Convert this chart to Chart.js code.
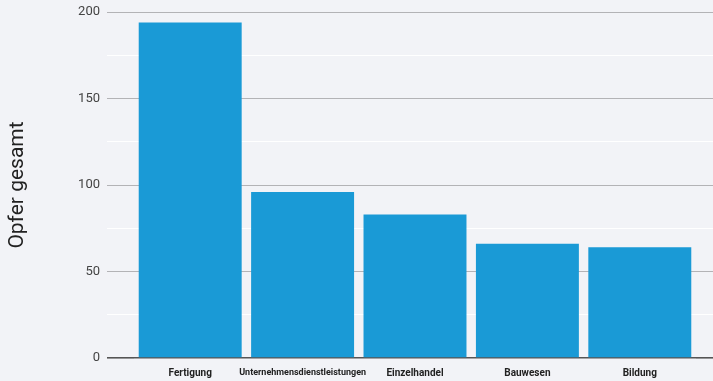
<!DOCTYPE html>
<html>
<head>
<meta charset="utf-8">
<script src="https://cdn.jsdelivr.net/npm/chart.js@4/dist/chart.umd.min.js"></script>
<style>
  html, body { margin: 0; padding: 0; background: #f2f3f7; }
  #wrap { width: 713px; height: 381px; position: relative; }
</style>
</head>
<body>
<div id="wrap"><canvas id="c" width="713" height="381"></canvas></div>
<script>
const categories = ["Fertigung", "Unternehmensdienstleistungen", "Einzelhandel", "Bauwesen", "Bildung"];
const victims = [194, 96, 83, 66, 64];
const yTickLabels = [0, 50, 100, 150, 200];
const yAxisTitle = "Opfer gesamt";

function gridColor(ctx) {
  const v = ctx.tick ? ctx.tick.value : 0;
  if (v === 0) return '#555555';
  if (yTickLabels.includes(v)) return '#b3b3b6';
  return '#ffffff';
}
function gridWidth(ctx) {
  const v = ctx.tick ? ctx.tick.value : 0;
  return v === 0 ? 1.6 : 1;
}

const bgPlugin = {
  id: 'bg',
  beforeDraw(chart) {
    const c = chart.ctx;
    c.save();
    c.fillStyle = '#f2f3f7';
    c.fillRect(0, 0, chart.width, chart.height);
    c.restore();
  }
};

new Chart(document.getElementById('c'), {
  type: 'bar',
  data: {
    labels: categories,
    datasets: [{
      data: victims,
      backgroundColor: '#1a9ad6',
      borderWidth: 0,
      categoryPercentage: 1,
      barPercentage: 0.916
    }]
  },
  options: {
    responsive: false,
    animation: false,
    events: [],
    layout: { padding: { top: 12, left: 0, right: 0, bottom: 0 } },
    plugins: { legend: { display: false }, tooltip: { enabled: false } },
    scales: {
      x: {
        grid: { display: false, drawTicks: false },
        border: { display: false },
        ticks: {
          autoSkip: false, maxRotation: 0, minRotation: 0,
          padding: 9,
          color: '#222222',
          font: (ctx) => ({ family: 'Roboto', size: ctx.index === 1 ? 9 : 10, weight: 'bold' })
        },
        afterFit(scale) { scale.height = 23; scale.paddingLeft = 0; scale.paddingRight = 0; }
      },
      y: {
        position: 'left',
        min: 0, max: 200,
        border: { display: false },
        grid: { color: gridColor, lineWidth: gridWidth, drawTicks: true, tickLength: 27, z: -1 },
        ticks: {
          stepSize: 25,
          padding: 7,
          color: '#444444',
          font: { family: 'Roboto', size: 13 },
          callback: (v) => yTickLabels.includes(v) ? String(v) : ''
        },
        title: {
          display: true,
          text: yAxisTitle,
          color: '#222222',
          font: { family: 'Roboto', size: 21 },
          padding: { top: 5, bottom: 0 }
        },
        afterFit(scale) { scale.width = 134; scale.paddingTop = 0; scale.paddingBottom = 0; }
      },
      y2: {
        position: 'right',
        min: 0, max: 200,
        border: { display: false },
        grid: { color: gridColor, lineWidth: gridWidth, drawOnChartArea: false, drawTicks: true, tickLength: 17 },
        ticks: { display: false, stepSize: 25 },
        afterFit(scale) { scale.width = 17; scale.paddingTop = 0; scale.paddingBottom = 0; }
      }
    }
  },
  plugins: [bgPlugin]
});
</script>
</body>
</html>
